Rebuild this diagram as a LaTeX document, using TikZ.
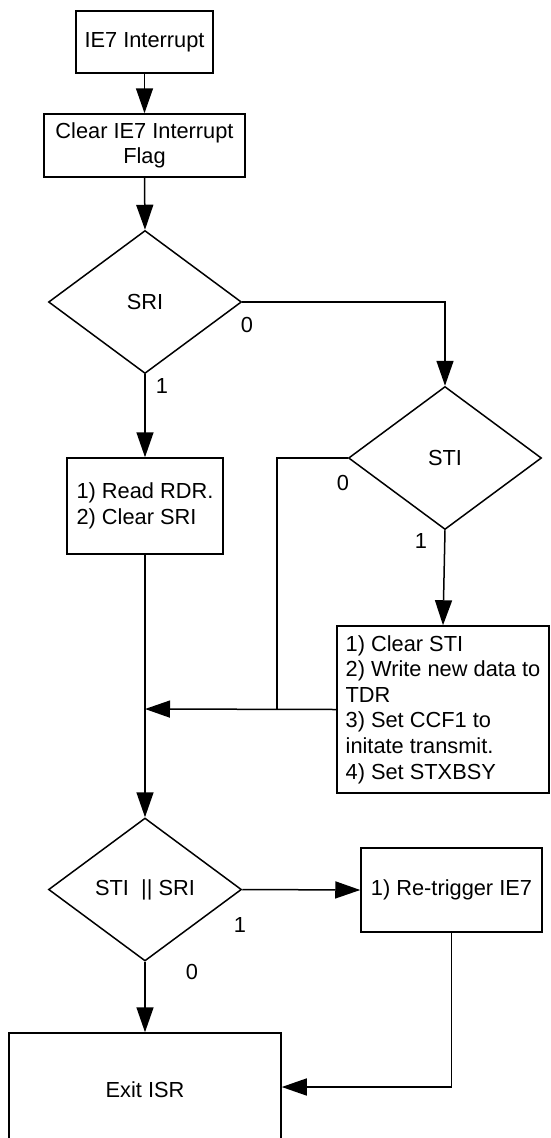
\documentclass[tikz,border=0pt]{standalone}
\usepackage{fontspec}
\setmainfont{Liberation Sans}
\usetikzlibrary{arrows.meta,shapes.geometric}
\begin{document}
\begin{tikzpicture}[x=1pt,y=-1pt,
  every node/.style={font=\fontsize{21.8}{25.6}\selectfont},
  box/.style={draw,line width=1.5pt,rectangle,inner sep=0pt},
  dec/.style={draw,line width=1.5pt,diamond,inner sep=0pt,minimum width=193pt,minimum height=143pt},
  lbl/.style={inner sep=0pt},
  conn/.style={line width=1.5pt},
  arr/.style={line width=1.5pt,-{Triangle[length=25pt,width=17pt]}}]
\useasboundingbox (0,0) rectangle (550,1138);
\clip (0,0) rectangle (550,1138);
\node[box,minimum width=137pt,minimum height=62pt] (b1) at (144.5,42) {IE7 Interrupt};
\node[box,minimum width=201pt,minimum height=63pt,align=center] (b2) at (144.5,145.5) {Clear IE7 Interrupt\\Flag};
\node[dec] (sri) at (145,302) {SRI};
\node[box,minimum width=156pt,minimum height=96pt,align=left] (b3) at (145,506) {1) Read RDR.\\2) Clear SRI};
\node[dec] (sti) at (445,458) {STI};
\node[box,minimum width=212pt,minimum height=167pt,align=left] (b4) at (443,709.5) {1) Clear STI\\2) Write new data to\\TDR\\3) Set CCF1 to\\initate transmit.\\4) Set STXBSY};
\node[dec] (d3) at (145,889.5) {STI \ || SRI};
\node[box,minimum width=181pt,minimum height=84pt] (b5) at (451.5,890) {1) Re-trigger IE7};
\node[box,minimum width=272pt,minimum height=108pt] (ex) at (145,1087) {};
\node[lbl] (extext) at (145,1090) {Exit ISR};
\coordinate (j) at (277,709);
\coordinate (m) at (145,709);
\node[lbl] (l1) at (247,325) {0};
\node[lbl] (l2) at (162,386) {1};
\node[lbl] (l3) at (343,483) {0};
\node[lbl] (l4) at (421,541) {1};
\node[lbl] (l5) at (240,925) {1};
\node[lbl] (l6) at (192,972) {0};
\draw[arr] (b1.south) -- (b2.north);
\draw[arr] (b2.south) -- (sri.north);
\draw[arr] (sri.south) -- (b3.north);
\draw[arr] (sri.east) -| (sti.north);
\draw[arr] (sti.south) -- (b4.north);
\draw[conn] (sti.west) -| (j);
\draw[arr] (b4.west) -- (m);
\draw[arr] (b3.south) -- (d3.north);
\draw[arr] (d3.east) -- (b5.west);
\draw[arr] (d3.south) -- (ex.north);
\draw[arr] (b5.south) |- (ex.east);
\end{tikzpicture}
\end{document}
